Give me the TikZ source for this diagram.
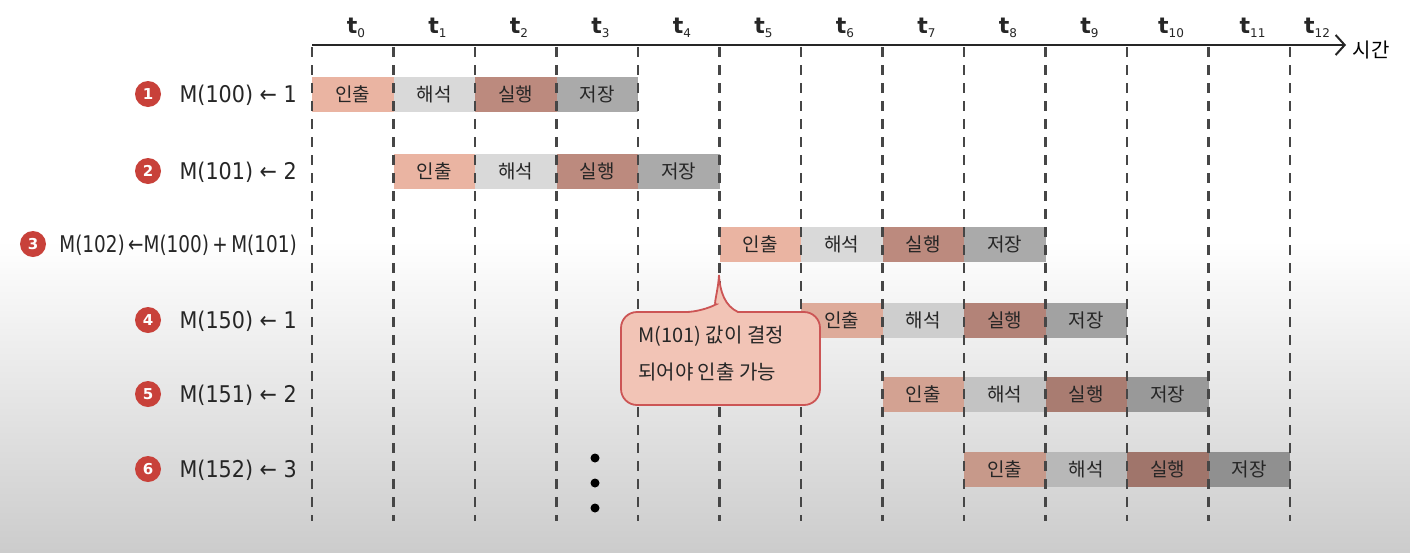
\documentclass[tikz,border=0pt]{standalone}
\usepackage{fontspec}
\usepackage{graphicx}
\usetikzlibrary{arrows.meta}
\newfontfamily\kr{Noto Sans CJK KR}
\newfontfamily\lbl[FakeStretch=0.9]{DejaVu Sans}
\newfontfamily\tfont{DejaVu Sans}
\definecolor{cfetch}{RGB}{234,180,162}
\definecolor{cdecode}{RGB}{217,217,217}
\definecolor{cexec}{RGB}{188,138,126}
\definecolor{cstore}{RGB}{170,170,170}
\definecolor{cnotefill}{RGB}{242,196,182}
\definecolor{cnoteline}{RGB}{204,85,85}
\definecolor{cnum}{RGB}{200,65,58}
\definecolor{cdash}{RGB}{70,70,70}
\definecolor{cbgbot}{RGB}{204,204,204}
\tikzset{
  stagebox/.style={rectangle, minimum width=81.5pt, minimum height=35pt, inner sep=0pt,
    font=\kr\fontsize{19}{19}\selectfont, text=black!85},
  numdot/.style={circle, fill=cnum, minimum size=26pt, inner sep=0pt, text=white,
    font=\tfont\bfseries\fontsize{15}{15}\selectfont},
  rowlabel/.style={anchor=east, inner sep=0pt, font=\lbl\fontsize{23}{23}\selectfont, text=black!85},
  tlabel/.style={inner sep=0pt, font=\tfont\bfseries\fontsize{22}{22}\selectfont, text=black!85},
  gridline/.style={draw=cdash, line width=2.2pt, dash pattern=on 10pt off 8pt},
  axisline/.style={draw=black!85, line width=2pt},
  callout/.style={draw=cnoteline, fill=cnotefill, line width=1.8pt},
  dotmark/.style={circle, fill=black, minimum size=9pt, inner sep=0pt},
}
\newcommand{\tsub}[1]{{\fontsize{12}{12}\selectfont\raisebox{-4pt}{\mdseries #1}}}
\begin{document}
\begin{tikzpicture}[x=1pt,y=-1pt]
\useasboundingbox (0,0) rectangle (1410,552);
\fill[white] (0,0) rectangle (1410,552);
\shade[top color=white, bottom color=cbgbot] (0,240) rectangle (1410,552);

% time axis
\coordinate (axs) at (312,45);
\coordinate (axe) at (1346,45);
\draw[axisline, -{Straight Barb[length=9pt,width=20pt,line width=2pt]}] (axs) -- (axe);
\node[font=\kr\fontsize{20}{20}\selectfont, inner sep=0pt] (sigan) at (1371,50) {시간};

% t labels
\foreach \k in {0,...,11} {
  \node[tlabel] (t\k) at ({312+81.5*\k+44},28) {t\tsub{\k}};
}
\node[tlabel] (t12) at (1317,28) {t\tsub{12}};

% rows (shade = how much of the base colour is kept, matching the background gradient)
\foreach \r/\y/\s/\p in {1/94/0/100, 2/171/1/100, 3/244/5/100, 4/320/6/95, 5/394/7/90, 6/469/8/85} {
  \node[stagebox, fill=cfetch!\p!black]  (f\r) at ({312+81.5*\s+40.75},\y) {인출};
  \node[stagebox, fill=cdecode!\p!black] (d\r) at ({312+81.5*(\s+1)+40.75},\y) {해석};
  \node[stagebox, fill=cexec!\p!black]   (e\r) at ({312+81.5*(\s+2)+40.75},\y) {실행};
  \node[stagebox, fill=cstore!\p!black]  (s\r) at ({312+81.5*(\s+3)+40.75},\y) {저장};
}

% grid lines
\foreach \k in {0,...,12} {
  \coordinate (gt\k) at ({312+81.5*\k},47);
  \coordinate (gb\k) at ({312+81.5*\k},521);
  \draw[gridline] (gt\k) -- (gb\k);
}

% row labels
\node[numdot] (n1) at (148,94) {1};
\node[rowlabel] (l1) at (297,95) {M(100) ← 1};
\node[numdot] (n2) at (148,171) {2};
\node[rowlabel] (l2) at (297,172) {M(101) ← 2};
\node[numdot] (n3) at (33,244) {3};
\node[rowlabel] (l3) at (297,245) {\scalebox{0.89}[1]{M(102)\,←M(100)\,+\,M(101)}};
\node[numdot] (n4) at (148,320) {4};
\node[rowlabel] (l4) at (297,321) {M(150) ← 1};
\node[numdot] (n5) at (148,394) {5};
\node[rowlabel] (l5) at (297,395) {M(151) ← 2};
\node[numdot] (n6) at (148,469) {6};
\node[rowlabel] (l6) at (297,470) {M(152) ← 3};

% dots
\node[dotmark] (v1) at (595,458) {};
\node[dotmark] (v2) at (595,483) {};
\node[dotmark] (v3) at (595,508) {};

% callout
\coordinate (tip) at (719,275);
\draw[callout] (738,312) [rounded corners=16pt] -- (820,312) -- (820,405) -- (621,405) -- (621,312) -- (702,312)
  [sharp corners] .. controls (713,306) and (718,292) .. (tip)
  .. controls (720,292) and (725,306) .. (738,312) -- cycle;
\node[anchor=north west, align=left, inner sep=0pt, font=\kr\fontsize{20}{37}\selectfont, text=black!85] (note) at (638,326)
  {M(101) 값이 결정\\되어야 인출 가능};
\end{tikzpicture}
\end{document}
